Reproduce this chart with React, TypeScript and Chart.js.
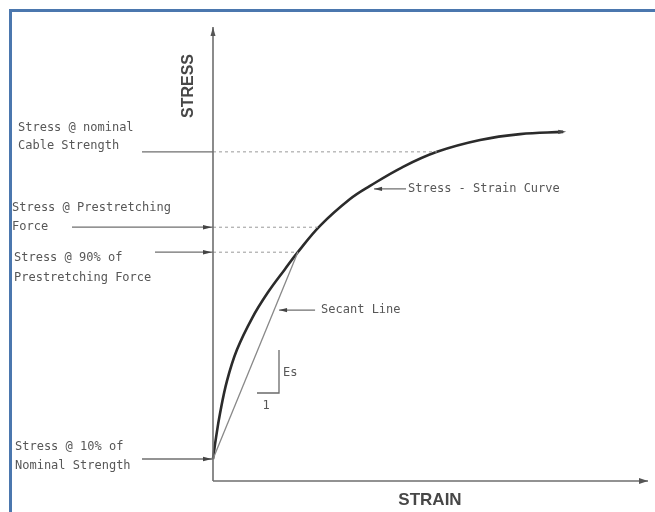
import React, { useEffect, useRef } from "react";
import { Chart, registerables } from "chart.js";

Chart.register(...registerables);

// Stress-strain curve (arbitrary units)
const curveStrain = [0, 0.7, 1.6, 3.2, 5.5, 9.0, 12.6, 16.5, 19.5, 24.6, 31.5, 36.1, 43.5, 51.5, 61.4, 70.6, 80.5];
const curveStress = [4.85, 9.6, 14.8, 22.0, 28.9, 35.9, 41.5, 46.6, 50.4, 56.2, 62.1, 65.0, 69.1, 72.5, 75.1, 76.4, 76.9];

// Marked stress levels
const levelStress = [72.5, 55.9, 50.4, 4.85];
const levelStrainOnCurve = [51.5, 24.4, 19.5, 0];
const levelLabels = [
  ["Stress @ nominal", "Cable Strength"],
  ["Stress @ Prestretching", "Force"],
  ["Stress @ 90% of", "Prestretching Force"],
  ["Stress @ 10% of", "Nominal Strength"],
];

// Secant line: from the 10% level to the 90% level point on the curve
const secantStrain = [0, 19.5];
const secantStress = [4.85, 50.4];

const axisMax = 100;
const axisTitles = ["STRAIN", "STRESS"];
const curveLabel = "Stress - Strain Curve";
const secantLabel = "Secant Line";
const slopeLabels = ["Es", "1"];

// layout of the left labels (pixels)
const labelLayout = [
  { x: 18, dy: [-24, -6], lead: 142, arrow: false },
  { x: 12, dy: [-19, 0], lead: 72, arrow: true },
  { x: 14, dy: [6, 26], lead: 155, arrow: true },
  { x: 15, dy: [-12, 7], lead: 142, arrow: true },
];

function arrowHead(ctx: CanvasRenderingContext2D, x: number, y: number, angle: number, len: number, half: number, color: string) {
  ctx.save();
  ctx.translate(x, y);
  ctx.rotate(angle);
  ctx.beginPath();
  ctx.moveTo(0, 0);
  ctx.lineTo(-len, -half);
  ctx.lineTo(-len, half);
  ctx.closePath();
  ctx.fillStyle = color;
  ctx.fill();
  ctx.restore();
}

const annotationPlugin = {
  id: "annotations",
  afterDatasetsDraw(chart: any) {
    const ctx: CanvasRenderingContext2D = chart.ctx;
    const xs = chart.scales.x;
    const ys = chart.scales.y;
    const px = (v: number) => xs.getPixelForValue(v);
    const py = (v: number) => ys.getPixelForValue(v);
    const area = chart.chartArea;
    const textColor = "#575757";
    const lineColor = "#6f6f6f";

    ctx.save();
    // axis arrows
    arrowHead(ctx, px(axisMax), py(0), 0, 9, 3, "#555");
    arrowHead(ctx, px(0), py(axisMax), -Math.PI / 2, 9, 2.5, "#555");
    // curve end arrow
    const n = curveStrain.length - 1;
    arrowHead(ctx, px(curveStrain[n]) + 3, py(curveStress[n]), 0, 8, 2.2, "#444");

    ctx.font = '12px "DejaVu Sans Mono"';
    ctx.textBaseline = "middle";
    ctx.textAlign = "left";

    // left labels with leaders
    levelStress.forEach((s, i) => {
      const y = py(s);
      const lay = labelLayout[i];
      ctx.fillStyle = textColor;
      levelLabels[i].forEach((t, k) => ctx.fillText(t, lay.x, y + lay.dy[k]));
      ctx.strokeStyle = lineColor;
      ctx.lineWidth = 1.3;
      ctx.beginPath();
      ctx.moveTo(lay.lead, y);
      ctx.lineTo(px(0), y);
      ctx.stroke();
      if (lay.arrow) arrowHead(ctx, px(0) - 1, y, 0, 9, 2.3, "#444");
    });

    // curve label
    const ci = 11;
    const cx = px(curveStrain[ci]) + 4;
    const cy = py(curveStress[ci]) + 3;
    ctx.strokeStyle = lineColor;
    ctx.lineWidth = 1.2;
    ctx.beginPath();
    ctx.moveTo(cx, cy);
    ctx.lineTo(cx + 32, cy);
    ctx.stroke();
    arrowHead(ctx, cx, cy, Math.PI, 8, 2.2, "#444");
    ctx.fillStyle = textColor;
    ctx.fillText(curveLabel, cx + 34, cy);

    // secant label
    const t = 0.72;
    const sx0 = px(secantStrain[0]), sy0 = py(secantStress[0]);
    const sx1 = px(secantStrain[1]), sy1 = py(secantStress[1]);
    const tx = sx0 + t * (sx1 - sx0) + 5;
    const ty = sy0 + t * (sy1 - sy0);
    ctx.beginPath();
    ctx.moveTo(tx, ty);
    ctx.lineTo(tx + 36, ty);
    ctx.stroke();
    arrowHead(ctx, tx, ty, Math.PI, 8, 2.2, "#444");
    ctx.fillText(secantLabel, tx + 42, ty);

    // slope triangle
    const vx = area.left + 66;
    const vTop = area.bottom - 131;
    const vBot = area.bottom - 88;
    ctx.strokeStyle = "#6a6a6a";
    ctx.lineWidth = 1.3;
    ctx.beginPath();
    ctx.moveTo(vx, vTop);
    ctx.lineTo(vx, vBot);
    ctx.lineTo(area.left + 44, vBot);
    ctx.stroke();
    ctx.fillStyle = textColor;
    ctx.fillText(slopeLabels[0], vx + 4, area.bottom - 108);
    ctx.textAlign = "center";
    ctx.fillText(slopeLabels[1], area.left + 53, area.bottom - 75);

    // axis titles
    ctx.font = 'bold 17px "Liberation Sans"';
    ctx.fillStyle = "#474747";
    ctx.fillText(axisTitles[0], area.left + 217, area.bottom + 19);
    ctx.font = 'bold 16px "Liberation Sans"';
    ctx.translate(area.left - 24, area.top + 59);
    ctx.rotate(-Math.PI / 2);
    ctx.fillText(axisTitles[1], 0, 0);
    ctx.restore();
  },
};

export default function App() {
  const ref = useRef<HTMLCanvasElement | null>(null);

  useEffect(() => {
    if (!ref.current) return;
    const curve = curveStrain.map((x, i) => ({ x, y: curveStress[i] }));
    const secant = secantStrain.map((x, i) => ({ x, y: secantStress[i] }));
    const dashed = levelStress.slice(0, 3).map((s, i) => ({
      data: [{ x: 0, y: s }, { x: levelStrainOnCurve[i], y: s }],
      borderColor: "#9a9a9a",
      borderWidth: 1,
      borderDash: [3, 3],
      showLine: true,
      pointRadius: 0,
      clip: false as any,
    }));
    const chart = new Chart(ref.current, {
      type: "scatter",
      data: {
        datasets: [
          {
            data: [{ x: 0, y: 0 }, { x: axisMax, y: 0 }],
            borderColor: "#6e6e6e",
            borderWidth: 1.6,
            showLine: true,
            pointRadius: 0,
            clip: false as any,
          },
          {
            data: [{ x: 0, y: 0 }, { x: 0, y: axisMax }],
            borderColor: "#6e6e6e",
            borderWidth: 1.6,
            showLine: true,
            pointRadius: 0,
            clip: false as any,
          },
          ...dashed,
          {
            data: secant,
            borderColor: "#888",
            borderWidth: 1.3,
            showLine: true,
            pointRadius: 0,
            clip: false as any,
          },
          {
            data: curve,
            borderColor: "#2b2b2b",
            borderWidth: 2.6,
            showLine: true,
            pointRadius: 0,
            tension: 0.4,
            clip: false as any,
          },
        ],
      },
      options: {
        animation: false,
        responsive: false,
        events: [],
        layout: { padding: { left: 213, right: 7, top: 27, bottom: 31 } },
        scales: {
          x: { type: "linear", min: 0, max: axisMax, display: false },
          y: { type: "linear", min: 0, max: axisMax, display: false },
        },
        plugins: { legend: { display: false }, tooltip: { enabled: false } },
      },
      plugins: [annotationPlugin],
    });
    return () => chart.destroy();
  }, []);

  return (
    <div style={{ position: "fixed", left: 0, top: 0, width: 655, height: 512, background: "#fff", overflow: "hidden" }}>
      <div
        style={{
          position: "absolute",
          left: 9,
          top: 9,
          right: -10,
          bottom: -10,
          borderTop: "3px solid #4b77ae",
          borderLeft: "3px solid #4b77ae",
        }}
      />
      <canvas ref={ref} width={655} height={512} style={{ position: "absolute", left: 0, top: 0, width: 655, height: 512 }} />
    </div>
  );
}
